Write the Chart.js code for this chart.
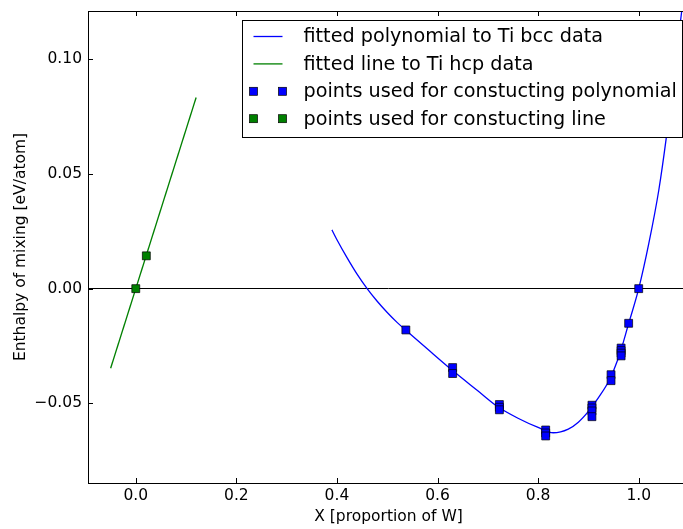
<!DOCTYPE html>
<html>
<head>
<meta charset="utf-8">
<script src="https://cdn.jsdelivr.net/npm/chart.js@4/dist/chart.umd.min.js"></script>
<style>
  html, body { margin: 0; padding: 0; background: #fff; overflow: hidden; }
  #wrap { width: 700px; height: 529px; }
</style>
</head>
<body>
<div id="wrap"><canvas id="mixing"></canvas></div>
<script>
// fitted polynomial through the bcc points
const bccCurveX = [0.39, 0.40, 0.42, 0.44, 0.46, 0.48, 0.50, 0.52, 0.537, 0.58, 0.63, 0.68, 0.72, 0.76, 0.80, 0.83, 0.86, 0.88, 0.90, 0.92, 0.94, 0.96, 0.98, 1.00, 1.02, 1.04, 1.055, 1.07, 1.085, 1.10]
const bccCurveY = [0.0256, 0.0213, 0.0135, 0.0063, 0.0, -0.0055, -0.0104, -0.0148, -0.0181, -0.0263, -0.0357, -0.0445, -0.0515, -0.0565, -0.0605, -0.0628, -0.0612, -0.0582, -0.0535, -0.0475, -0.0405, -0.030, -0.0152, 0.0, 0.0196, 0.043, 0.066, 0.093, 0.12, 0.15]

// fitted line through the hcp points
const hcpLineX = [-0.05, 0.12]
const hcpLineY = [-0.0347, 0.0833]

// computed bcc points
const bccX = [0.537, 0.63, 0.63, 0.723, 0.723, 0.723, 0.815, 0.815, 0.815, 0.907, 0.907, 0.907, 0.907, 0.945, 0.945, 0.965, 0.965, 0.965, 0.965, 0.98, 1.0]
const bccY = [-0.018, -0.0344, -0.037, -0.0505, -0.0517, -0.0528, -0.0616, -0.0629, -0.0642, -0.0508, -0.052, -0.0533, -0.0558, -0.0375, -0.0401, -0.0259, -0.027, -0.0281, -0.0293, -0.0151, 0.0]

// computed hcp points
const hcpX = [0.0, 0.021]
const hcpY = [0.0, 0.0143]

const xTicks = [0.0, 0.2, 0.4, 0.6, 0.8, 1.0]
const xTickLabels = ['0.0', '0.2', '0.4', '0.6', '0.8', '1.0']
const yTicks = [-0.05, 0.0, 0.05, 0.10]
const yTickLabels = ['\u22120.05', '0.00', '0.05', '0.10']

const FONT = 'DejaVu Sans'
const toXY = (xs, ys) => xs.map((x, i) => ({x: x, y: ys[i]}))

// black frame with inward ticks on left, top and bottom
const frame = {
  id: 'frame',
  afterDatasetsDraw(chart) {
    const {ctx, chartArea: a, scales} = chart
    ctx.save()
    ctx.strokeStyle = '#000'
    ctx.lineWidth = 1
    ctx.strokeRect(Math.round(a.left) + 0.5, Math.round(a.top) + 0.5, Math.round(a.right - a.left), Math.round(a.bottom - a.top))
    ctx.beginPath()
    xTicks.forEach(v => {
      const px = Math.round(scales.x.getPixelForValue(v)) + 0.5
      ctx.moveTo(px, a.bottom); ctx.lineTo(px, a.bottom - 5)
      ctx.moveTo(px, a.top); ctx.lineTo(px, a.top + 5)
    })
    yTicks.forEach(v => {
      const py = Math.round(scales.y.getPixelForValue(v)) + 0.5
      ctx.moveTo(a.left, py); ctx.lineTo(a.left + 5, py)
    })
    ctx.stroke()
    ctx.restore()
  }
}

// legend box in the upper right corner, two markers per point series
const legendBox = {
  id: 'legendBox',
  afterDraw(chart) {
    const {ctx, chartArea: a} = chart
    const w = 440, h = 117
    const x0 = Math.round(a.right - 7 - w) + 0.5, y0 = Math.round(a.top + 9) + 0.5
    ctx.save()
    ctx.fillStyle = '#fff'
    ctx.fillRect(x0, y0, w, h)
    ctx.strokeStyle = '#000'
    ctx.lineWidth = 1
    ctx.strokeRect(x0, y0, w, h)
    ctx.font = '19.2px "' + FONT + '"'
    ctx.textBaseline = 'middle'
    chart.data.datasets.forEach((ds, i) => {
      const y = y0 + 16 + i * 27.4
      if (ds.showLine === false) {
        [x0 + 11, x0 + 40].forEach(mx => {
          ctx.fillStyle = ds.backgroundColor
          ctx.fillRect(mx - 4, y - 4, 8, 8)
          ctx.strokeStyle = '#000'
          ctx.lineWidth = 0.7
          ctx.strokeRect(mx - 4, y - 4, 8, 8)
        })
      } else {
        ctx.strokeStyle = ds.borderColor
        ctx.lineWidth = ds.borderWidth
        ctx.beginPath()
        ctx.moveTo(x0 + 11, y); ctx.lineTo(x0 + 40, y)
        ctx.stroke()
      }
      ctx.fillStyle = '#000'
      ctx.fillText(ds.label, x0 + 61, y + 1)
    })
    ctx.restore()
  }
}

new Chart(document.getElementById('mixing'), {
  type: 'scatter',
  data: {
    datasets: [{
      label: 'fitted polynomial to Ti bcc data',
      data: toXY(bccCurveX, bccCurveY),
      showLine: true,
      borderColor: '#0000ff',
      backgroundColor: '#0000ff',
      borderWidth: 1.3,
      pointRadius: 0,
      cubicInterpolationMode: 'monotone',
      order: 2
    }, {
      label: 'fitted line to Ti hcp data',
      data: toXY(hcpLineX, hcpLineY),
      showLine: true,
      borderColor: '#008000',
      backgroundColor: '#008000',
      borderWidth: 1.3,
      pointRadius: 0,
      order: 2
    }, {
      label: 'points used for constucting polynomial',
      data: toXY(bccX, bccY),
      showLine: false,
      pointStyle: 'rect',
      pointRadius: 5.6,
      backgroundColor: '#0000ff',
      borderColor: '#000',
      borderWidth: 0.7,
      order: 1
    }, {
      label: 'points used for constucting line',
      data: toXY(hcpX, hcpY),
      showLine: false,
      pointStyle: 'rect',
      pointRadius: 5.6,
      backgroundColor: '#008000',
      borderColor: '#000',
      borderWidth: 0.7,
      order: 1
    }]
  },
  options: {
    responsive: true,
    maintainAspectRatio: false,
    animation: false,
    layout: {padding: {left: 0, top: 11, right: 11, bottom: 0}},
    plugins: {legend: {display: false}, tooltip: {enabled: false}},
    scales: {
      x: {
        type: 'linear',
        min: -0.095,
        max: 1.1,
        afterBuildTicks: s => { s.ticks = xTicks.map(v => ({value: v})) },
        afterFit: s => { s.height = 46; s.paddingLeft = 0; s.paddingRight = 0 },
        grid: {display: false, drawTicks: false},
        border: {display: false},
        ticks: {
          padding: 4,
          color: '#000',
          font: {family: FONT, size: 15.5},
          maxRotation: 0,
          callback: v => xTickLabels[xTicks.indexOf(v)]
        },
        title: {
          display: true,
          text: 'X [proportion of W]',
          color: '#000',
          font: {family: FONT, size: 15.5},
          padding: {top: 0, bottom: 3}
        }
      },
      y: {
        type: 'linear',
        min: -0.0847,
        max: 0.121,
        afterBuildTicks: s => { s.ticks = yTicks.map(v => ({value: v})) },
        afterFit: s => { s.width = 88; s.paddingTop = 0; s.paddingBottom = 0 },
        grid: {
          drawTicks: false,
          lineWidth: 1,
          color: c => (c.tick && c.tick.value === 0) ? '#000' : 'rgba(0,0,0,0)'
        },
        border: {display: false},
        ticks: {
          padding: 6,
          color: '#000',
          font: {family: FONT, size: 15.5},
          callback: v => yTickLabels[yTicks.indexOf(v)]
        },
        title: {
          display: true,
          text: 'Enthalpy of mixing [eV/atom]',
          color: '#000',
          font: {family: FONT, size: 15.5},
          padding: {top: 12, bottom: 0}
        }
      }
    }
  },
  plugins: [frame, legendBox]
})
</script>
</body>
</html>
